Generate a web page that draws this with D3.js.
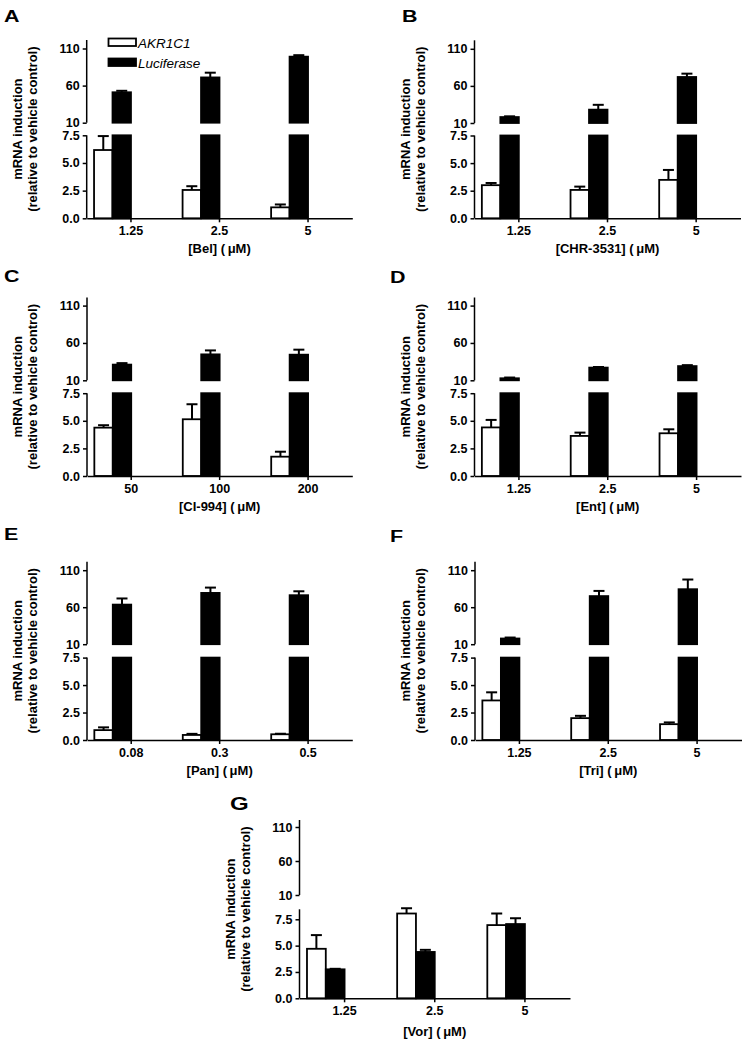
<!DOCTYPE html>
<html>
<head>
<meta charset="utf-8">
<script src="https://cdn.jsdelivr.net/npm/d3@7"></script>
<style>
  html, body { margin: 0; padding: 0; background: #fff; }
  svg { display: block; }
  text { font-family: "Liberation Sans", Arial, Helvetica, sans-serif; }
</style>
</head>
<body>
<svg id="chart" width="747" height="1046"></svg>
<script>
// ---------------- DATA ----------------
const seriesNames = ["AKR1C1", "Luciferase"];
const panelLetters = ["A", "B", "C", "D", "E", "F", "G"];
const drugNames = ["Bel", "CHR-3531", "CI-994", "Ent", "Pan", "Tri", "Vor"];
const doseLabels = [
  ["1.25", "2.5", "5"],
  ["1.25", "2.5", "5"],
  ["50", "100", "200"],
  ["1.25", "2.5", "5"],
  ["0.08", "0.3", "0.5"],
  ["1.25", "2.5", "5"],
  ["1.25", "2.5", "5"]
];
// AKR1C1 mean and upper end of error bar
const akrMean = [
  [6.17, 2.56, 0.99],
  [3.0, 2.57, 3.48],
  [4.38, 5.14, 1.75],
  [4.4, 3.63, 3.87],
  [0.9, 0.46, 0.52],
  [3.6, 1.99, 1.44],
  [4.7, 8.05, 6.95]
];
const akrErr = [
  [7.43, 2.9, 1.25],
  [3.2, 2.87, 4.38],
  [4.6, 6.5, 2.2],
  [5.08, 3.93, 4.23],
  [1.15, 0.56, 0.57],
  [4.34, 2.2, 1.6],
  [6.0, 8.55, 8.05]
];
// Luciferase mean and upper end of error bar
const lucMean = [
  [51, 71, 99],
  [18, 28, 72],
  [31, 44.7, 44.3],
  [12.7, 27, 29],
  [63.5, 79.3, 76.2],
  [17.7, 75, 84.3],
  [2.75, 4.4, 7.05]
];
const lucErr = [
  [53, 77.4, 101],
  [19, 34.5, 76.5],
  [33, 50, 51],
  [13.7, 27.8, 30.3],
  [71.8, 86.5, 81.5],
  [19, 82, 97.4],
  [2.8, 4.6, 7.6]
];
const lowerTicks = [0, 2.5, 5, 7.5];
const upperTicks = [10, 60, 110];
const yTitleLines = ["mRNA induction", "(relative to vehicle control)"];

// ---------------- LAYOUT ----------------
const layout = [
  { lx: 4,   ly: 21.7, ls: 16.5, ax0: 86.7,  ax1: 352.3, y0: 218.3, y75: 135.3, y10: 122.7, y110: 48.5,  yTop: 40,    lowMax: 7.5, xt: 35 },
  { lx: 402, ly: 22,   ls: 16.5, ax0: 474.5, ax1: 740.5, y0: 218.3, y75: 135.5, y10: 123.0, y110: 48.8,  yTop: 40.3,  lowMax: 7.5, xt: 35 },
  { lx: 4,   ly: 281.5,ls: 16.5, ax0: 87.0,  ax1: 352.3, y0: 476.0, y75: 393.2, y10: 380.3, y110: 305.6, yTop: 297.5, lowMax: 7.5, xt: 35 },
  { lx: 390, ly: 283,  ls: 16.5, ax0: 474.5, ax1: 741.0, y0: 476.0, y75: 393.2, y10: 380.3, y110: 305.6, yTop: 297.5, lowMax: 7.5, xt: 35 },
  { lx: 4,   ly: 540,  ls: 16.5, ax0: 87.0,  ax1: 352.3, y0: 740.0, y75: 657.6, y10: 644.2, y110: 570.2, yTop: 561.7, lowMax: 7.5, xt: 35 },
  { lx: 390, ly: 541.7,ls: 16.5, ax0: 475.0, ax1: 741.5, y0: 740.0, y75: 657.6, y10: 644.2, y110: 570.2, yTop: 561.7, lowMax: 7.5, xt: 35 },
  { lx: 230, ly: 810,  ls: 18.5, ax0: 299.5, ax1: 570.0, y0: 998.3, y75: 919.3, y10: 895.0, y110: 827.0, yTop: 820,   lowMax: 8.45, xt: 38 }
];

const svg = d3.select("#chart");
const fontFam = '"Liberation Sans", Arial, Helvetica, sans-serif';

function drawPanel(i) {
  const L = layout[i];
  const g = svg.append("g");

  const x0 = d3.scaleBand().domain(doseLabels[i]).range([L.ax0, L.ax1]);
  const bw = x0.bandwidth();
  const x1 = d3.scaleBand().domain(seriesNames).range([bw * 0.083, bw * 0.5]);
  const yLow = d3.scaleLinear().domain([0, 7.5]).range([L.y0, L.y75]);
  const yUp = d3.scaleLinear().domain([10, 110]).range([L.y10, L.y110]);

  const means = [akrMean[i], lucMean[i]];
  const errs = [akrErr[i], lucErr[i]];

  const items = [];
  seriesNames.forEach((s, si) => {
    doseLabels[i].forEach((d, di) => {
      items.push({ s, si, d, v: means[si][di], e: errs[si][di] });
    });
  });

  // bars (lower segment)
  g.selectAll("rect.low").data(items).enter().append("rect")
    .attr("x", d => x0(d.d) + x1(d.s))
    .attr("width", x1.bandwidth())
    .attr("y", d => yLow(Math.min(d.v, L.lowMax)))
    .attr("height", d => L.y0 - yLow(Math.min(d.v, L.lowMax)))
    .attr("fill", d => d.si === 0 ? "#fff" : "#000")
    .attr("stroke", "#000")
    .attr("stroke-width", 1.8);

  // bars (upper segment)
  g.selectAll("rect.up").data(items.filter(d => d.v > L.lowMax)).enter().append("rect")
    .attr("x", d => x0(d.d) + x1(d.s))
    .attr("width", x1.bandwidth())
    .attr("y", d => yUp(d.v))
    .attr("height", d => yUp(10) - yUp(d.v))
    .attr("fill", d => d.si === 0 ? "#fff" : "#000")
    .attr("stroke", "#000")
    .attr("stroke-width", 1.8);

  // error bars (upper whisker only), drawn in the segment of their bar
  const capW = 11;
  items.forEach(d => {
    const ys = d.v > L.lowMax ? yUp : yLow;
    const cx = x0(d.d) + x1(d.s) + x1.bandwidth() / 2;
    g.append("line")
      .attr("x1", cx).attr("x2", cx)
      .attr("y1", ys(d.v)).attr("y2", ys(d.e))
      .attr("stroke", "#000").attr("stroke-width", 2);
    g.append("line")
      .attr("x1", cx - capW / 2).attr("x2", cx + capW / 2)
      .attr("y1", ys(d.e)).attr("y2", ys(d.e))
      .attr("stroke", "#000").attr("stroke-width", 2);
  });

  // y axes
  const styleAxis = sel => {
    sel.selectAll("path.domain").remove();
    sel.selectAll("line").attr("stroke", "#000").attr("stroke-width", 1.5);
    sel.selectAll("text").attr("font-family", fontFam).attr("font-size", 12.5)
      .attr("font-weight", "bold").attr("fill", "#000");
  };
  const gLow = g.append("g").attr("transform", `translate(${L.ax0},0)`)
    .call(d3.axisLeft(yLow).tickValues(lowerTicks).tickFormat(d3.format(".1f")).tickSize(4).tickSizeOuter(0))
    .call(styleAxis);
  gLow.append("line").attr("x1", 0).attr("x2", 0)
    .attr("y1", L.y0).attr("y2", yLow(L.lowMax))
    .attr("stroke", "#000").attr("stroke-width", 1.5);

  const gUp = g.append("g").attr("transform", `translate(${L.ax0},0)`)
    .call(d3.axisLeft(yUp).tickValues(upperTicks).tickFormat(d3.format("d")).tickSize(4).tickSizeOuter(0))
    .call(styleAxis);
  gUp.append("line").attr("x1", 0).attr("x2", 0)
    .attr("y1", yUp(10)).attr("y2", L.yTop)
    .attr("stroke", "#000").attr("stroke-width", 1.5);

  // x axis
  const gx = g.append("g").attr("transform", `translate(0,${L.y0})`)
    .call(d3.axisBottom(x0).tickSize(4).tickSizeOuter(0).tickPadding(4));
  gx.select("path.domain").attr("stroke", "#000").attr("stroke-width", 1.5);
  gx.selectAll("line").attr("stroke", "#000").attr("stroke-width", 1.5);
  gx.selectAll("text").attr("font-family", fontFam).attr("font-size", 12.5)
    .attr("font-weight", "bold").attr("fill", "#000");

  // x title
  g.append("text")
    .attr("x", (L.ax0 + L.ax1) / 2)
    .attr("y", L.y0 + L.xt)
    .attr("text-anchor", "middle")
    .attr("font-size", 13).attr("font-weight", "bold")
    .text(`[${drugNames[i]}] (\u2009\u03BCM)`);

  // y title
  const cy = (L.y0 + L.yTop) / 2;
  const offsets = [-65, -50];
  yTitleLines.forEach((t, k) => {
    g.append("text")
      .attr("transform", `translate(${L.ax0 + offsets[k]},${cy}) rotate(-90)`)
      .attr("text-anchor", "middle")
      .attr("font-size", 13).attr("font-weight", "bold")
      .text(t);
  });

  // panel letter
  g.append("text")
    .attr("transform", `translate(${L.lx},${L.ly}) scale(1.3,1)`)
    .attr("font-size", L.ls).attr("font-weight", "bold")
    .text(panelLetters[i]);
}

panelLetters.forEach((p, i) => drawPanel(i));

// legend (panel A)
const legend = svg.append("g");
const legendRows = [{ y: 38.5 }, { y: 58.5 }];
seriesNames.forEach((s, k) => {
  legend.append("rect")
    .attr("x", 108.5).attr("y", legendRows[k].y)
    .attr("width", 27.5).attr("height", 7.5)
    .attr("fill", k === 0 ? "#fff" : "#000")
    .attr("stroke", "#000").attr("stroke-width", 1.8);
  legend.append("text")
    .attr("x", 138).attr("y", legendRows[k].y + 9)
    .attr("font-size", 13.5).attr("font-style", "italic")
    .text(s);
});
</script>
</body>
</html>
